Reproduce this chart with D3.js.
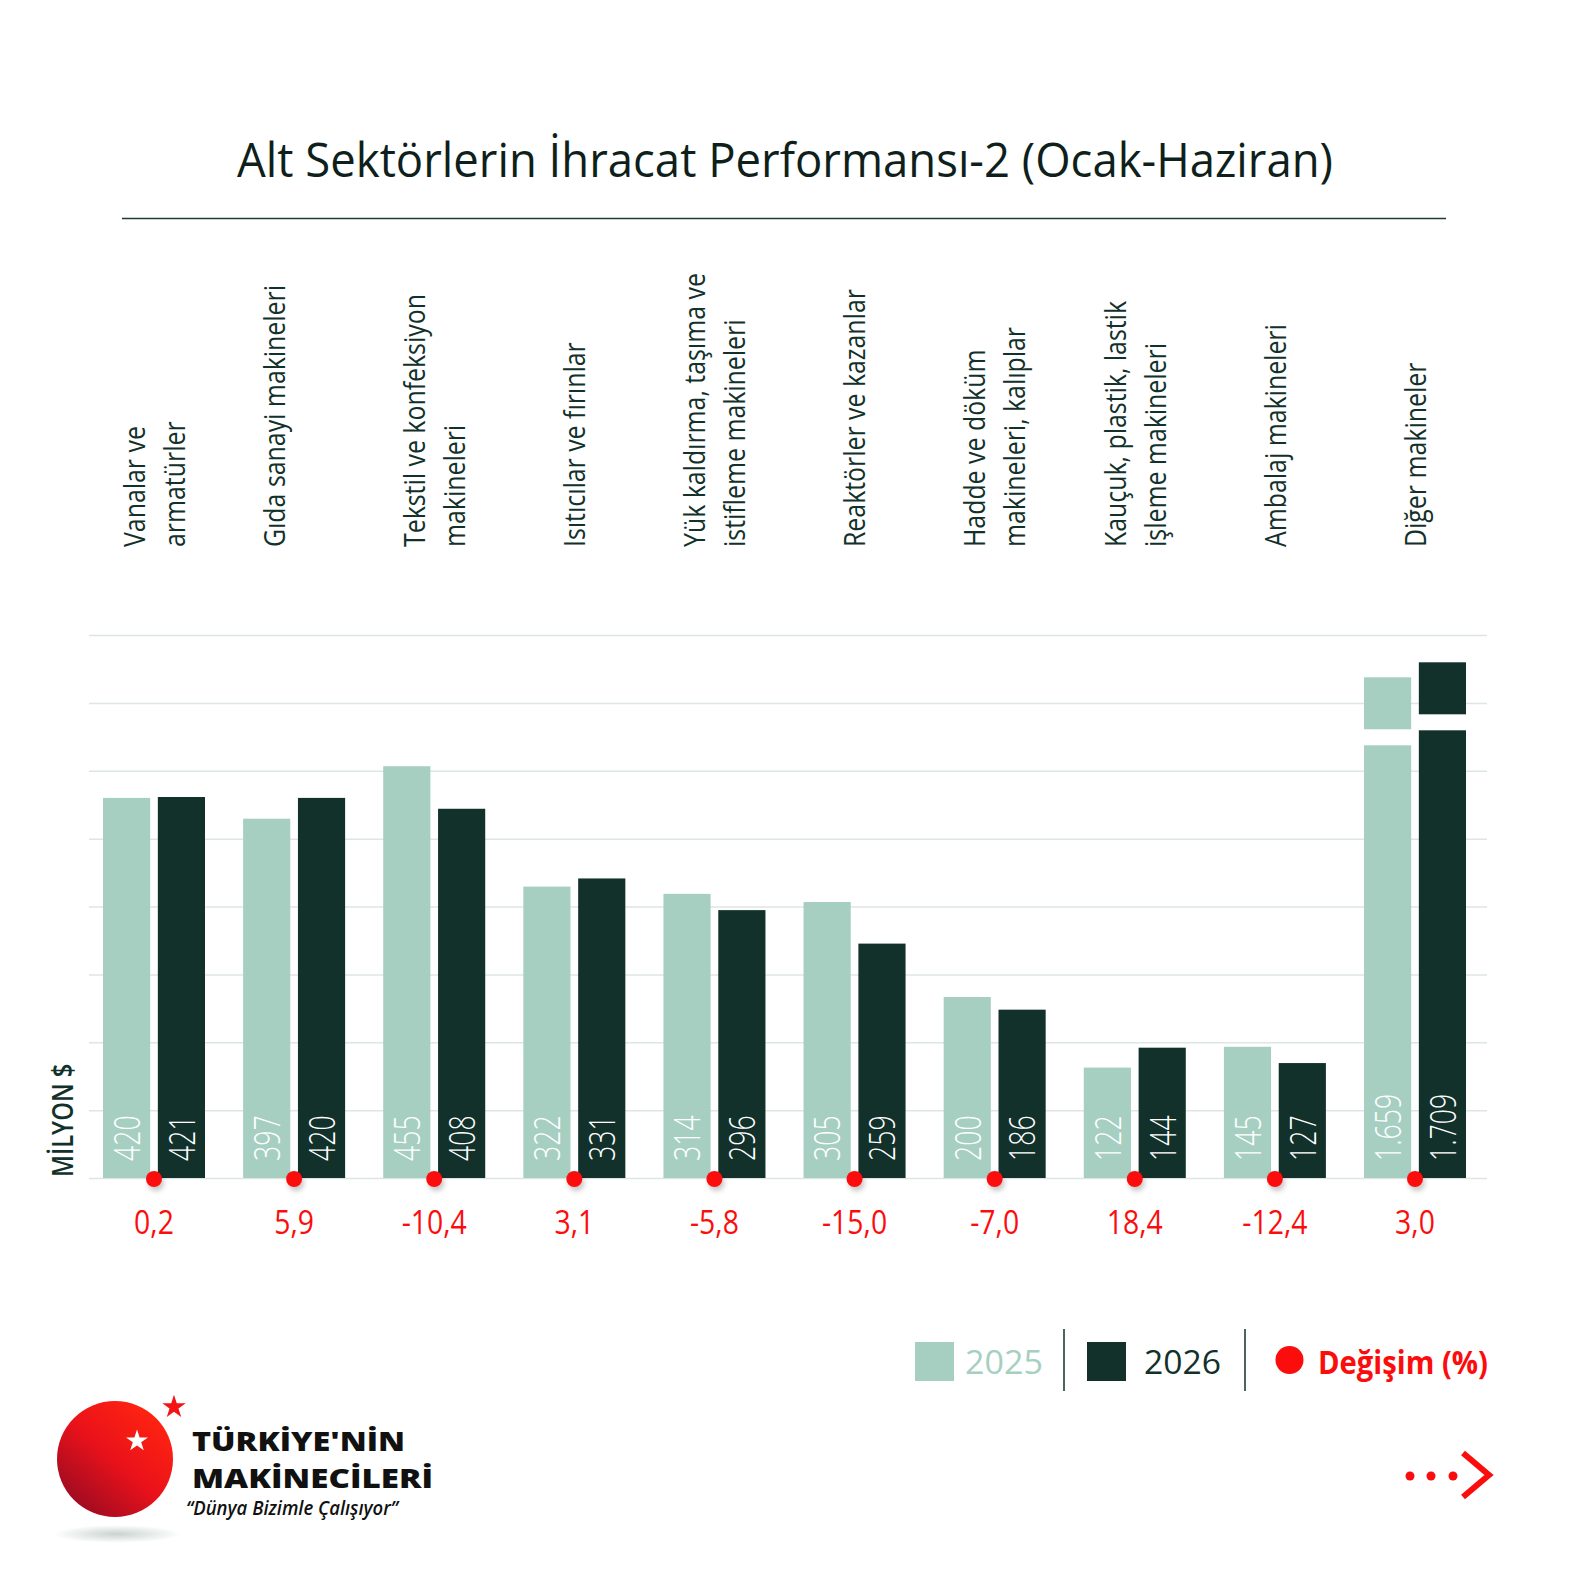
<!DOCTYPE html>
<html>
<head>
<meta charset="utf-8">
<script src="https://cdn.jsdelivr.net/npm/d3@7"></script>
<style>
  body { margin: 0; background: #fff; }
  text { font-family: "Open Sans", "Noto Sans", sans-serif; }
</style>
</head>
<body>
<div id="chart"></div>
<script>
// Chart data
const categories = [
    ["Vanalar ve", "armatürler"],
    ["Gıda sanayi makineleri", ""],
    ["Tekstil ve konfeksiyon", "makineleri"],
    ["Isıtıcılar ve fırınlar"],
    ["Yük kaldırma, taşıma ve", "istifleme makineleri"],
    ["Reaktörler ve kazanlar"],
    ["Hadde ve döküm", "makineleri, kalıplar"],
    ["Kauçuk, plastik, lastik", "işleme makineleri"],
    ["Ambalaj makineleri"],
    ["Diğer makineler"]
];
const years = ["2025", "2026"];
const values2025 = [420, 397, 455, 322, 314, 305, 200, 122, 145, 1659];
const values2026 = [421, 420, 408, 331, 296, 259, 186, 144, 127, 1709];
const changePct = [0.2, 5.9, -10.4, 3.1, -5.8, -15.0, -7.0, 18.4, -12.4, 3.0];
const gridTicks = [0, 75, 150, 225, 300, 375, 450, 525, 600];

const titleText = "Alt Sektörlerin İhracat Performansı-2 (Ocak-Haziran)";
const unitText = "MİLYON $";
const changeText = "Değişim (%)";

// Colors
const lightGreen = "#a6cfc2";
const darkGreen = "#12312b";
const red = "#fb0d0d";

const trLocale = d3.formatLocale({ decimal: ",", thousands: ".", grouping: [3], currency: ["", ""], minus: "-" });
const fmtValue = trLocale.format(",d");
const fmtPct = trLocale.format(".1f");

const width = 1575, height = 1575;
const svg = d3.select("#chart").append("svg")
    .attr("width", width)
    .attr("height", height);

const defs = svg.append("defs");
defs.append("filter").attr("id", "dotShadow")
    .attr("x", "-50%").attr("y", "-50%").attr("width", "200%").attr("height", "200%")
    .append("feDropShadow")
    .attr("dx", 2).attr("dy", 4).attr("stdDeviation", 2.5)
    .attr("flood-color", "#000").attr("flood-opacity", 0.22);

// Title
svg.append("text")
    .attr("x", 785).attr("y", 177)
    .attr("text-anchor", "middle")
    .attr("font-family", "'Noto Sans', 'Open Sans', sans-serif")
    .attr("font-size", 47)
    .attr("font-weight", 500)
    .attr("fill", "#0f1f1b")
    .attr("textLength", 1096)
    .attr("lengthAdjust", "spacingAndGlyphs")
    .text(titleText);

svg.append("line")
    .attr("x1", 122).attr("x2", 1446)
    .attr("y1", 218.5).attr("y2", 218.5)
    .attr("stroke", "#1d3b34").attr("stroke-width", 1.5);

// Scales
const x0 = d3.scaleBand()
    .domain(d3.range(categories.length))
    .range([103, 1466])
    .paddingInner(0.272);

const x1 = d3.scaleBand()
    .domain(years)
    .range([0, x0.bandwidth()])
    .paddingInner(0.14);

const y = d3.scaleLinear().domain([0, 600]).range([1178, 635]);
// compressed scale for the broken (out of range) bars
const yBreak = d3.scaleLinear().domain([1600, 1800]).range([695, 635]);
const breakTopHeight = 52, breakGap = 16;

// Grid
svg.append("g")
    .attr("transform", "translate(89,0)")
    .call(d3.axisLeft(y).tickValues(gridTicks).tickSize(-1398).tickFormat(""))
    .call(g => g.select(".domain").remove())
    .call(g => g.selectAll(".tick line").attr("stroke", "#dde6e3").attr("stroke-width", 1.5));

// Bars
const rows = categories.map((c, i) => ({
    i,
    items: [
        { year: "2025", value: values2025[i] },
        { year: "2026", value: values2026[i] }
    ]
}));

const groups = svg.append("g").selectAll("g")
    .data(rows)
    .join("g")
    .attr("transform", d => `translate(${x0(d.i)},0)`);

groups.each(function(d) {
    const g = d3.select(this);
    d.items.forEach(item => {
        const bx = x1(item.year);
        const fill = item.year === "2025" ? lightGreen : darkGreen;
        if (item.value <= y.domain()[1]) {
            g.append("rect")
                .attr("x", bx)
                .attr("y", y(item.value))
                .attr("width", x1.bandwidth())
                .attr("height", y(0) - y(item.value))
                .attr("fill", fill);
        } else {
            const top = yBreak(item.value);
            g.append("rect")
                .attr("x", bx).attr("y", top)
                .attr("width", x1.bandwidth()).attr("height", breakTopHeight)
                .attr("fill", fill);
            const lowTop = top + breakTopHeight + breakGap;
            g.append("rect")
                .attr("x", bx).attr("y", lowTop)
                .attr("width", x1.bandwidth()).attr("height", y(0) - lowTop)
                .attr("fill", fill);
        }
        // value label inside the bar
        g.append("text")
            .attr("transform", `translate(${bx + x1.bandwidth() / 2},1161) rotate(-90) scale(0.72,1)`)
            .attr("dy", "0.36em")
            .attr("font-size", 37)
            .attr("font-weight", 300)
            .attr("fill", "#fff")
            .text(fmtValue(item.value));
    });
});

// Change dots and labels
const centerX = i => x0(i) + x0.bandwidth() / 2;

svg.append("g").selectAll("circle")
    .data(changePct)
    .join("circle")
    .attr("cx", (d, i) => centerX(i))
    .attr("cy", y(0) + 1)
    .attr("r", 8)
    .attr("fill", red)
    .attr("filter", "url(#dotShadow)");

svg.append("g").selectAll("text")
    .data(changePct)
    .join("text")
    .attr("transform", (d, i) => `translate(${centerX(i)},1234) scale(0.86,1)`)
    .attr("text-anchor", "middle")
    .attr("font-size", 33)
    .attr("fill", red)
    .text(d => fmtPct(d));

// Category labels (rotated)
const lineGap = 40;
const catG = svg.append("g").selectAll("g")
    .data(categories)
    .join("g");

catG.each(function(lines, i) {
    const g = d3.select(this);
    const n = lines.length;
    lines.forEach((line, j) => {
        const lx = centerX(i) + (j - (n - 1) / 2) * lineGap;
        g.append("text")
            .attr("transform", `translate(${lx},547) rotate(-90) scale(0.83,1)`)
            .attr("dy", "0.36em")
            .attr("font-size", 30)
            .attr("fill", darkGreen)
            .text(line);
    });
});

// Unit label
svg.append("text")
    .attr("transform", "translate(73,1177) rotate(-90) scale(0.85,1)")
    .attr("font-size", 28)
    .attr("font-weight", 600)
    .attr("fill", darkGreen)
    .text(unitText);

// Legend
const legend = svg.append("g");
legend.append("rect").attr("x", 915).attr("y", 1342).attr("width", 39).attr("height", 39).attr("fill", lightGreen);
legend.append("text").attr("x", 965).attr("y", 1374).attr("font-size", 33).attr("fill", lightGreen)
    .attr("textLength", 78).attr("lengthAdjust", "spacingAndGlyphs").text(years[0]);
legend.append("line").attr("x1", 1064).attr("x2", 1064).attr("y1", 1329).attr("y2", 1391)
    .attr("stroke", darkGreen).attr("stroke-width", 1.5);
legend.append("rect").attr("x", 1087).attr("y", 1342).attr("width", 39).attr("height", 39).attr("fill", darkGreen);
legend.append("text").attr("x", 1144).attr("y", 1374).attr("font-size", 33).attr("fill", darkGreen)
    .attr("textLength", 77).attr("lengthAdjust", "spacingAndGlyphs").text(years[1]);
legend.append("line").attr("x1", 1245).attr("x2", 1245).attr("y1", 1329).attr("y2", 1391)
    .attr("stroke", darkGreen).attr("stroke-width", 1.5);
legend.append("circle").attr("cx", 1289.5).attr("cy", 1360).attr("r", 14).attr("fill", red);
legend.append("text").attr("x", 1318).attr("y", 1374).attr("font-size", 32).attr("font-weight", 700)
    .attr("fill", red).attr("textLength", 170).attr("lengthAdjust", "spacingAndGlyphs").text(changeText);

// Next-page arrow
const arrow = svg.append("g");
arrow.selectAll("circle")
    .data([1410, 1431, 1453])
    .join("circle")
    .attr("cx", d => d).attr("cy", 1476).attr("r", 4.5).attr("fill", red);
arrow.append("path")
    .attr("d", "M1463,1453 L1489,1475 L1463,1497")
    .attr("fill", "none").attr("stroke", red).attr("stroke-width", 6)
    .attr("stroke-linejoin", "miter");

// Logo
const sphere = defs.append("linearGradient").attr("id", "sphereGrad")
    .attr("x1", "85%").attr("y1", "10%").attr("x2", "15%").attr("y2", "90%");
sphere.append("stop").attr("offset", "0%").attr("stop-color", "#ff2410");
sphere.append("stop").attr("offset", "50%").attr("stop-color", "#ea121a");
sphere.append("stop").attr("offset", "100%").attr("stop-color", "#9e0b22");

const shadow = defs.append("radialGradient").attr("id", "logoShadow");
shadow.append("stop").attr("offset", "0%").attr("stop-color", "#c9d3d1");
shadow.append("stop").attr("offset", "100%").attr("stop-color", "#ffffff");

const logo = svg.append("g");
logo.append("ellipse").attr("cx", 117).attr("cy", 1534).attr("rx", 64).attr("ry", 9).attr("fill", "url(#logoShadow)");
logo.append("circle").attr("cx", 115).attr("cy", 1459).attr("r", 58).attr("fill", "url(#sphereGrad)");
logo.append("path")
    .attr("transform", "translate(137,1441)")
    .attr("d", d3.symbol(d3.symbolStar, 150)())
    .attr("fill", "#fff");
logo.append("path")
    .attr("transform", "translate(174,1407)")
    .attr("d", d3.symbol(d3.symbolStar, 170)())
    .attr("fill", "#f51414");
logo.append("text").attr("x", 192).attr("y", 1451).attr("font-family", "Roboto, sans-serif")
    .attr("font-size", 27).attr("font-weight", 900).attr("fill", "#111")
    .attr("textLength", 213).attr("lengthAdjust", "spacingAndGlyphs").text("TÜRKİYE'NİN");
logo.append("text").attr("x", 192).attr("y", 1488).attr("font-family", "Roboto, sans-serif")
    .attr("font-size", 27).attr("font-weight", 900).attr("fill", "#111")
    .attr("textLength", 241).attr("lengthAdjust", "spacingAndGlyphs").text("MAKİNECİLERİ");
logo.append("text").attr("x", 186).attr("y", 1515)
    .attr("font-size", 19).attr("font-weight", 600).attr("font-style", "italic").attr("fill", "#111")
    .attr("textLength", 212).attr("lengthAdjust", "spacingAndGlyphs").text("“Dünya Bizimle Çalışıyor”");
</script>
</body>
</html>
